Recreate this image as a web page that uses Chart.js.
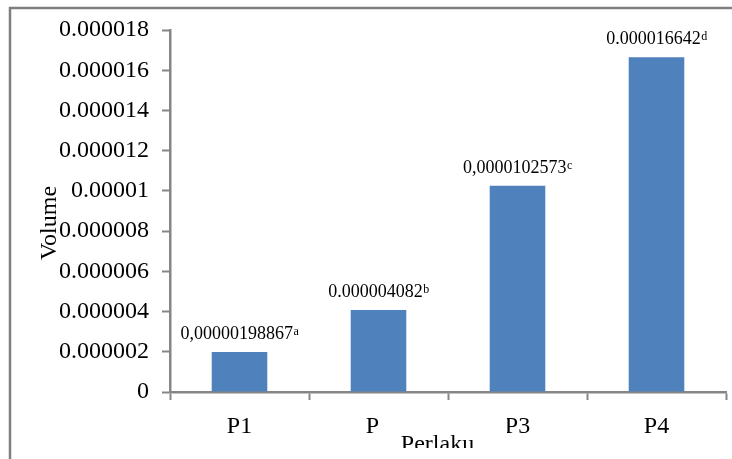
<!DOCTYPE html>
<html>
<head>
<meta charset="utf-8">
<script src="https://cdn.jsdelivr.net/npm/chart.js@4/dist/chart.umd.min.js"></script>
<style>
  html, body { margin: 0; padding: 0; background: #fff; }
  #wrap { width: 732px; height: 459px; position: relative; }
</style>
</head>
<body>
<div id="wrap"><canvas id="volChart"></canvas></div>
<script>
// ── data ───────────────────────────────────────
const categories  = ['P1', 'P2', 'P3', 'P4'];
const volumes     = [0.00000198867, 0.000004082, 0.0000102573, 0.000016642];
const valueLabels = ['0,00000198867', '0.000004082', '0,0000102573', '0.000016642'];
const letters     = ['a', 'b', 'c', 'd'];
const yTickLabels = ['0', '0.000002', '0.000004', '0.000006', '0.000008',
                     '0.00001', '0.000012', '0.000014', '0.000016', '0.000018'];

const SERIF = '"Liberation Serif", "Times New Roman", serif';
const AXIS_GREY = '#868686';

// value labels with superscript letters above each bar
const barLabels = {
  id: 'barLabels',
  afterDatasetsDraw(chart) {
    const ctx = chart.ctx;
    const meta = chart.getDatasetMeta(0);
    ctx.save();
    ctx.fillStyle = '#000';
    ctx.textBaseline = 'alphabetic';
    ctx.textAlign = 'left';
    meta.data.forEach((bar, i) => {
      ctx.font = '18px ' + SERIF;
      const w1 = ctx.measureText(valueLabels[i]).width;
      ctx.font = '12px ' + SERIF;
      const w2 = ctx.measureText(letters[i]).width;
      const x0 = bar.x - (w1 + w2) / 2;
      const y = bar.y - 13;
      ctx.font = '18px ' + SERIF;
      ctx.fillText(valueLabels[i], x0, y);
      ctx.font = '12px ' + SERIF;
      ctx.fillText(letters[i], x0 + w1 + 0.5, y - 4);
    });
    ctx.restore();
  },
};

// frame lines, axis titles
const decor = {
  id: 'decor',
  afterDraw(chart) {
    const ctx = chart.ctx;
    ctx.save();
    ctx.strokeStyle = '#7f7f7f';
    ctx.lineWidth = 2.5;
    ctx.beginPath();
    ctx.moveTo(10, 459);
    ctx.lineTo(10, 8);
    ctx.lineTo(732, 8);
    ctx.stroke();

    // y title
    ctx.fillStyle = '#000';
    ctx.font = '24px ' + SERIF;
    ctx.textAlign = 'center';
    ctx.textBaseline = 'alphabetic';
    ctx.save();
    ctx.translate(56, 223);
    ctx.rotate(-Math.PI / 2);
    ctx.fillText('Volume', 0, 0);
    ctx.restore();

    // x title box (covers part of the category labels) and clipped title
    ctx.fillStyle = '#fff';
    ctx.fillRect(380, 416, 127, 43);
    ctx.beginPath();
    ctx.rect(380, 416, 127, 32);
    ctx.clip();
    ctx.fillStyle = '#000';
    ctx.fillText('Perlaku', 437.5, 451);
    ctx.restore();
  },
};

new Chart(document.getElementById('volChart'), {
  type: 'bar',
  data: {
    labels: categories,
    datasets: [{
      data: volumes,
      backgroundColor: '#4F81BD',
      borderWidth: 0,
      categoryPercentage: 1,
      barPercentage: 0.4,
    }],
  },
  options: {
    responsive: true,
    maintainAspectRatio: false,
    animation: false,
    layout: { padding: { top: 30, right: 6, bottom: 0, left: 0 } },
    plugins: {
      legend: { display: false },
      tooltip: { enabled: false },
    },
    scales: {
      x: {
        grid: {
          offset: true,
          drawOnChartArea: false,
          drawTicks: true,
          tickLength: 8,
          tickColor: AXIS_GREY,
          tickWidth: 2,
        },
        border: { color: AXIS_GREY, width: 2.5 },
        ticks: { color: '#000', padding: 12, font: { family: SERIF, size: 24 } },
        afterFit: s => { s.height = 67; },
      },
      y: {
        min: 0,
        max: 0.000018,
        grid: {
          drawOnChartArea: false,
          drawTicks: true,
          tickLength: 8,
          tickColor: AXIS_GREY,
          tickWidth: 2,
        },
        border: { color: AXIS_GREY, width: 2.5 },
        ticks: {
          stepSize: 0.000002,
          color: '#000',
          padding: 13,
          font: { family: SERIF, size: 24 },
          callback: (v, i) => yTickLabels[i],
        },
        afterFit: s => { s.width = 170; },
      },
    },
  },
  plugins: [barLabels, decor],
});
</script>
</body>
</html>
